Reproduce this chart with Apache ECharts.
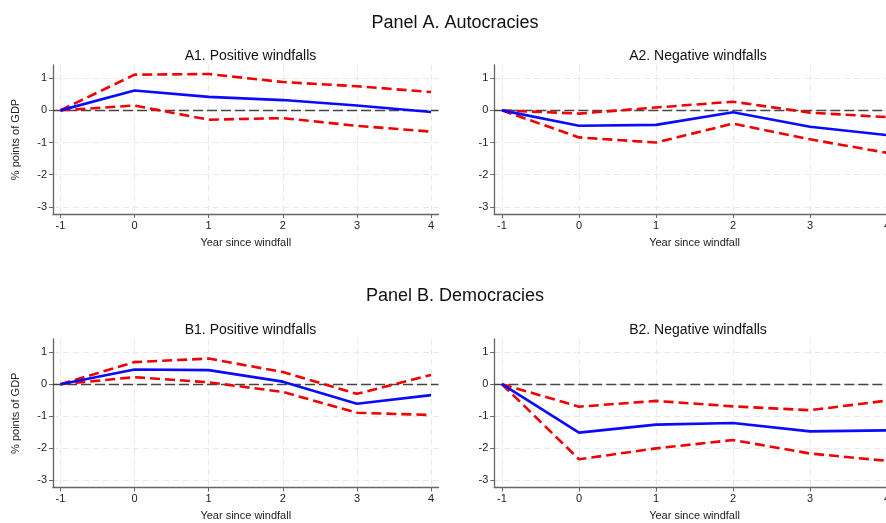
<!DOCTYPE html>
<html>
<head>
<meta charset="utf-8">
<script src="https://cdn.jsdelivr.net/npm/echarts@6/dist/echarts.min.js"></script>
<style>html,body{margin:0;padding:0;background:#fff}#c{width:886px;height:523px}</style>
</head>
<body>
<div id="c"></div>
<script>
// Data
const years = [-1, 0, 1, 2, 3, 4];
const yTicks = [-3, -2, -1, 0, 1];

const a1Est   = [0, 0.62, 0.42, 0.32, 0.15, -0.05];
const a1Upper = [0, 1.11, 1.13, 0.88, 0.75, 0.57];
const a1Lower = [0, 0.15, -0.29, -0.24, -0.48, -0.66];

const a2Est   = [0, -0.48, -0.45, -0.06, -0.51, -0.77];
const a2Upper = [0, -0.10, 0.09, 0.27, -0.07, -0.21];
const a2Lower = [0, -0.84, -1.00, -0.41, -0.90, -1.32];

const b1Est   = [0, 0.46, 0.44, 0.08, -0.61, -0.34];
const b1Upper = [0, 0.69, 0.80, 0.38, -0.30, 0.29];
const b1Lower = [0, 0.22, 0.06, -0.24, -0.89, -0.96];

const b2Est   = [0, -1.51, -1.26, -1.21, -1.47, -1.44];
const b2Upper = [0, -0.70, -0.52, -0.69, -0.81, -0.51];
const b2Lower = [0, -2.34, -2.00, -1.74, -2.16, -2.39];

const panelTitles = ['Panel A. Autocracies', 'Panel B. Democracies'];
const subTitles = ['A1. Positive windfalls', 'A2. Negative windfalls', 'B1. Positive windfalls', 'B2. Negative windfalls'];
const xName = 'Year since windfall';
const yName = '% points of GDP';

const panels = [
  [a1Est, a1Upper, a1Lower],
  [a2Est, a2Upper, a2Lower],
  [b1Est, b1Upper, b1Lower],
  [b2Est, b2Upper, b2Lower]
];

const FONT = '"Liberation Sans", Arial, Helvetica, sans-serif';
const grids = [
  {left: 53, top: 65, width: 385.5, height: 149},
  {left: 494.3, top: 65, width: 400.4, height: 149},
  {left: 53, top: 339, width: 385.5, height: 148.5},
  {left: 494.3, top: 339, width: 400.4, height: 148.5}
].map(g => Object.assign(g, {outerBoundsMode: 'none', containLabel: false}));

const pair = v => years.map((x, i) => [x, v[i]]);

const xAxes = grids.map((g, i) => ({
  type: 'value', gridIndex: i, min: -1.1, max: 4.1,
  name: xName, nameLocation: 'middle', nameGap: 23,
  nameTextStyle: {fontFamily: FONT, fontSize: 11, color: '#222'},
  axisLine: {show: true, onZero: false, lineStyle: {color: '#666', width: 1.3}},
  axisTick: {show: true, length: 4, customValues: years, lineStyle: {color: '#666'}},
  axisLabel: {customValues: years, margin: 6, fontFamily: FONT, fontSize: 11, color: '#222'},
  splitLine: {show: true, lineStyle: {color: '#e8e8e8', type: [6, 4], width: 1}}
}));

const yAxes = grids.map((g, i) => ({
  type: 'value', gridIndex: i, min: -3.22, max: 1.41,
  name: (i % 2 === 0) ? yName : '', nameLocation: 'middle', nameGap: 32,
  nameTextStyle: {fontFamily: FONT, fontSize: 11, color: '#222'},
  axisLine: {show: true, onZero: false, lineStyle: {color: '#666', width: 1.3}},
  axisTick: {show: true, length: 4, customValues: yTicks, lineStyle: {color: '#666'}},
  axisLabel: {customValues: yTicks, margin: 6, fontFamily: FONT, fontSize: 11, color: '#222'},
  splitLine: {show: true, lineStyle: {color: '#e8e8e8', type: [6, 4], width: 1}}
}));

const series = [];
panels.forEach((p, i) => {
  series.push({
    type: 'line', xAxisIndex: i, yAxisIndex: i, data: pair(p[1]),
    symbol: 'none', silent: true, z: 3,
    lineStyle: {color: '#f00000', width: 2.6, type: [10, 5]}
  });
  series.push({
    type: 'line', xAxisIndex: i, yAxisIndex: i, data: pair(p[2]),
    symbol: 'none', silent: true, z: 3,
    lineStyle: {color: '#f00000', width: 2.6, type: [10, 5]}
  });
  series.push({
    type: 'line', xAxisIndex: i, yAxisIndex: i, data: pair(p[0]),
    symbol: 'none', silent: true, z: 4,
    lineStyle: {color: '#0a0aff', width: 2.6},
    markLine: {
      silent: true, symbol: 'none', label: {show: false}, z: 2,
      lineStyle: {color: '#444', width: 1.3, type: [10, 4]},
      data: [{yAxis: 0}]
    }
  });
});

const titles = [
  {text: panelTitles[0], left: 450, top: 9, textAlign: 'center'},
  {text: panelTitles[1], left: 450, top: 282, textAlign: 'center'}
].map(t => Object.assign(t, {textStyle: {fontFamily: FONT, fontSize: 18, fontWeight: 'normal', color: '#111'}}));

const subPos = [[245.5, 44], [693, 44], [245.5, 318], [693, 318]];
subTitles.forEach((s, i) => {
  titles.push({text: s, left: subPos[i][0], top: subPos[i][1], textAlign: 'center',
    textStyle: {fontFamily: FONT, fontSize: 14, fontWeight: 'normal', color: '#111'}});
});

const chart = echarts.init(document.getElementById('c'), null, {renderer: 'canvas'});
chart.setOption({
  animation: false,
  backgroundColor: '#fff',
  title: titles,
  grid: grids,
  xAxis: xAxes,
  yAxis: yAxes,
  series: series
});
</script>
</body>
</html>
